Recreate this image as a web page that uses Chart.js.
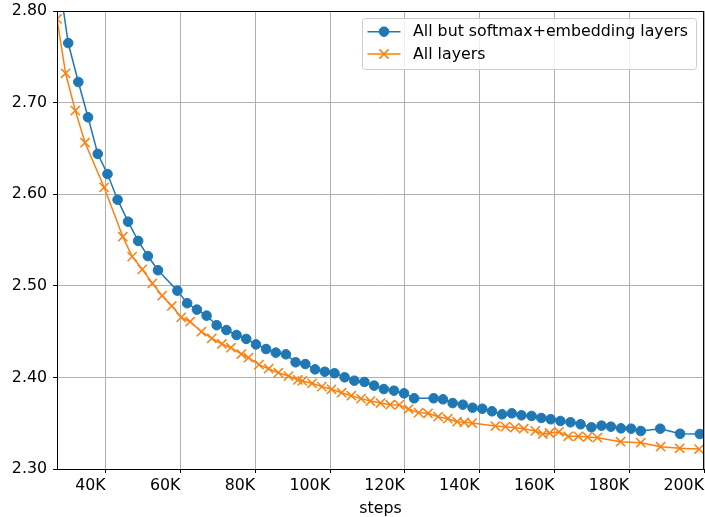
<!DOCTYPE html>
<html>
<head>
<meta charset="utf-8">
<script src="https://cdn.jsdelivr.net/npm/chart.js@4.4.1/dist/chart.umd.min.js"></script>
<style>
    body { margin: 0; background: #fff; }
    #wrap { width: 705px; height: 517px; position: relative; }
</style>
</head>
<body>
<div id="wrap"><canvas id="lossChart"></canvas></div>
<script>
const seriesLabels = ['All but softmax+embedding layers', 'All layers'];
const seriesColors = ['#1f77b4', '#ff7f0e'];

const blueSteps = [27400, 30000, 32700, 35300, 37900, 40500, 43200, 46000, 48700, 51300,
    54000, 59200, 61800, 64400, 67000, 69700, 72300, 75000, 77600, 80200,
    82900, 85500, 88200, 90800, 93400, 96000, 98600, 101200, 103900, 106500,
    109200, 111800, 114400, 117100, 119800, 122500, 127700, 130200, 132800, 135500,
    138100, 140700, 143300, 146000, 148600, 151200, 153900, 156500, 159000, 161600,
    164300, 167000, 169900, 172600, 175100, 177800, 180500, 183100, 188300, 193600,
    198900];
const blueLoss = [2.838, 2.765, 2.7225, 2.684, 2.644, 2.622, 2.594, 2.570, 2.549, 2.5325,
    2.517, 2.4947, 2.481, 2.474, 2.4674, 2.457, 2.4517, 2.4463, 2.442, 2.436,
    2.431, 2.427, 2.4252, 2.4165, 2.4146, 2.4088, 2.4062, 2.4045, 2.4001, 2.3964,
    2.395, 2.391, 2.3873, 2.3855, 2.3826, 2.3772, 2.3772, 2.3761, 2.372, 2.3702,
    2.3669, 2.3658, 2.363, 2.3597, 2.3608, 2.3586, 2.3579, 2.3557, 2.3543, 2.3524,
    2.351, 2.3488, 2.3455, 2.3473, 2.3462, 2.3444, 2.344, 2.3415, 2.344, 2.3385,
    2.3382];

const orangeSteps = [27000, 29300, 31900, 34500, 39600, 44600, 47100, 49800, 52500, 55100,
    57700, 60200, 62600, 65600, 68400, 71100, 73500, 76300, 78200, 81000,
    83600, 86200, 88900, 91400, 92600, 95200, 97800, 100400, 103100, 105700,
    108300, 110800, 113500, 116100, 118500, 121000, 123700, 126200, 128900, 131500,
    134000, 135900, 138000, 144200, 146900, 149400, 151800, 154900, 156900, 158700,
    161200, 163700, 166400, 168900, 171500, 177700, 183100, 188400, 193500, 198700];
const orangeLoss = [2.7913, 2.732, 2.6912, 2.6562, 2.6075, 2.5536, 2.5318, 2.518, 2.5027, 2.4892,
    2.478, 2.4656, 2.4608, 2.4499, 2.4427, 2.4365, 2.4324, 2.4255, 2.4215, 2.4139,
    2.4095, 2.4051, 2.4015, 2.3972, 2.3961, 2.3936, 2.3899, 2.387, 2.3833, 2.380,
    2.3768, 2.3742, 2.372, 2.3702, 2.370, 2.3655, 2.3615, 2.3608, 2.3571, 2.3549,
    2.3516, 2.351, 2.3502, 2.3469, 2.3462, 2.3451, 2.344, 2.3415, 2.3382, 2.3393,
    2.3404, 2.3357, 2.3357, 2.3349, 2.3342, 2.3298, 2.3287, 2.3243, 2.3226, 2.3218];

const xTicks = [40000, 60000, 80000, 100000, 120000, 140000, 160000, 180000, 200000];
const yTicks = [2.30, 2.40, 2.50, 2.60, 2.70, 2.80];
const xMin = 27000, xMax = 200000;
const yMin = 2.30, yMax = 2.80;

const FONT = 'DejaVu Sans';
const FONT_SIZE = 15.8;

function toPoints(xs, ys) {
    return xs.map((x, i) => ({ x: x, y: ys[i] }));
}

// frame around the axes, drawn over the lines like matplotlib spines
const framePlugin = {
    id: 'frame',
    afterDatasetsDraw(chart) {
        const a = chart.chartArea;
        const ctx = chart.ctx;
        ctx.save();
        ctx.strokeStyle = '#000';
        ctx.lineWidth = 1;
        ctx.strokeRect(Math.round(a.left) + 0.5, Math.round(a.top) + 0.5,
            Math.round(a.right - a.left) - 1, Math.round(a.bottom - a.top));
        ctx.restore();
    }
};

// legend box with line + marker samples
const legendPlugin = {
    id: 'mplLegend',
    afterDraw(chart) {
        const ctx = chart.ctx;
        const bx = 362.5, by = 18.5, bw = 334, bh = 51;
        ctx.save();
        ctx.fillStyle = 'rgba(255,255,255,0.8)';
        ctx.strokeStyle = '#cccccc';
        ctx.lineWidth = 1;
        ctx.beginPath();
        ctx.roundRect(bx, by, bw, bh, 3);
        ctx.fill();
        ctx.stroke();

        const rows = [31.7, 54];
        chart.data.datasets.forEach((ds, i) => {
            const y = rows[i];
            ctx.strokeStyle = ds.borderColor;
            ctx.lineWidth = ds.borderWidth;
            ctx.beginPath();
            ctx.moveTo(367.5, y);
            ctx.lineTo(400.5, y);
            ctx.stroke();
            ctx.fillStyle = ds.borderColor;
            ctx.lineWidth = ds.pointBorderWidth;
            if (ds.pointStyle === 'circle') {
                ctx.beginPath();
                ctx.arc(384, y, ds.pointRadius, 0, Math.PI * 2);
                ctx.fill();
                ctx.stroke();
            } else {
                Chart.helpers.drawPoint(ctx, {
                    pointStyle: ds.pointStyle,
                    radius: ds.pointRadius,
                    borderWidth: ds.pointBorderWidth
                }, 384, y);
            }
            ctx.fillStyle = '#000';
            ctx.font = FONT_SIZE + 'px "' + FONT + '"';
            ctx.textBaseline = 'middle';
            ctx.textAlign = 'left';
            ctx.fillText(ds.label, 413, y + 0.5);
        });
        ctx.restore();
    }
};

const ctx = document.getElementById('lossChart').getContext('2d');
const chart = new Chart(ctx, {
    type: 'line',
    data: {
        datasets: [{
            label: seriesLabels[0],
            data: toPoints(blueSteps, blueLoss),
            borderColor: seriesColors[0],
            backgroundColor: seriesColors[0],
            borderWidth: 1.5,
            pointStyle: 'circle',
            pointRadius: 4.8,
            pointBorderWidth: 1,
            pointBackgroundColor: seriesColors[0],
            pointBorderColor: seriesColors[0],
            tension: 0,
            fill: false,
            order: 1
        }, {
            label: seriesLabels[1],
            data: toPoints(orangeSteps, orangeLoss),
            borderColor: seriesColors[1],
            backgroundColor: seriesColors[1],
            borderWidth: 1.5,
            pointStyle: 'crossRot',
            pointRadius: 6.5,
            pointBorderWidth: 1.5,
            pointBorderColor: seriesColors[1],
            tension: 0,
            fill: false,
            order: 0
        }]
    },
    options: {
        responsive: true,
        maintainAspectRatio: false,
        animation: false,
        events: [],
        layout: {
            autoPadding: false,
            padding: { top: 11, right: 1, left: 0, bottom: 0 }
        },
        plugins: {
            legend: { display: false },
            tooltip: { enabled: false }
        },
        scales: {
            x: {
                type: 'linear',
                min: xMin,
                max: xMax,
                afterBuildTicks: scale => { scale.ticks = xTicks.map(v => ({ value: v })); },
                afterFit: scale => {
                    scale.height = 48;
                    scale.paddingLeft = 0;
                    scale.paddingRight = 0;
                },
                grid: {
                    color: '#b0b0b0',
                    lineWidth: 1,
                    tickColor: '#000',
                    tickLength: 4
                },
                border: { display: false },
                ticks: {
                    align: 'end',
                    padding: 3,
                    color: '#000',
                    maxRotation: 0,
                    autoSkip: false,
                    font: { family: FONT, size: FONT_SIZE },
                    callback: v => (v / 1000) + 'K'
                },
                title: {
                    display: true,
                    text: 'steps',
                    color: '#000',
                    font: { family: FONT, size: FONT_SIZE },
                    padding: { top: 0, bottom: -1 }
                }
            },
            y: {
                type: 'linear',
                min: yMin,
                max: yMax,
                afterBuildTicks: scale => { scale.ticks = yTicks.map(v => ({ value: v })); },
                afterFit: scale => {
                    scale.width = 57;
                    scale.paddingTop = 0;
                    scale.paddingBottom = 0;
                },
                grid: {
                    color: '#b0b0b0',
                    lineWidth: 1,
                    tickColor: '#000',
                    tickLength: 4
                },
                border: { display: false },
                ticks: {
                    padding: 6,
                    color: '#000',
                    autoSkip: false,
                    font: { family: FONT, size: FONT_SIZE },
                    callback: v => v.toFixed(2)
                }
            }
        }
    },
    plugins: [framePlugin, legendPlugin]
});
</script>
</body>
</html>
